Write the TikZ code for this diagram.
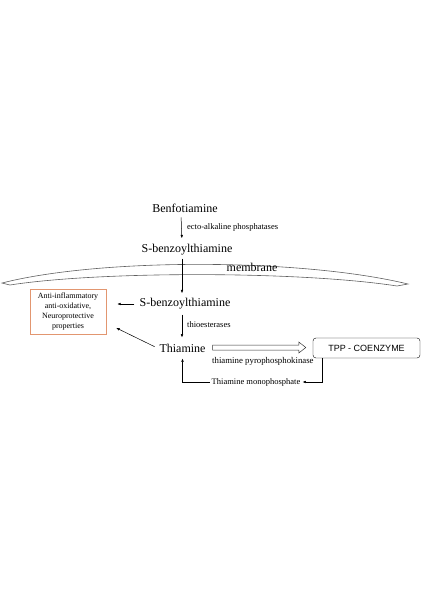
\documentclass[tikz,border=0pt]{standalone}
\usepackage{fontspec}
\setmainfont{Liberation Serif}
\setsansfont{Liberation Sans}
\usepackage{xcolor}
\usetikzlibrary{arrows.meta,positioning,calc}

\definecolor{boxorange}{RGB}{226,150,112}

\begin{document}
\begin{tikzpicture}[
    x=1pt, y=-1pt,
    composto/.style={inner sep=2pt, font=\fontsize{12}{14}\selectfont},
    enzima/.style={inner sep=2pt, anchor=west, font=\fontsize{8.5}{10}\selectfont},
    efeito/.style={draw=boxorange, align=center, minimum width=76pt,
        minimum height=45pt, inner sep=1pt, font=\fontsize{8}{10}\selectfont},
    coenzima/.style={draw, rounded corners=3pt, minimum width=107pt,
        minimum height=20pt, font=\sffamily\fontsize{9}{11}\selectfont},
    fluxo/.style={-{Latex[length=3.5pt,width=2.6pt]}, line width=0.5pt},
    membrana/.style={draw=gray!75!black, line width=0.6pt, fill=white},
    oco/.style={draw=black!80, line width=0.5pt, fill=white}
]
    \useasboundingbox (0,0) rectangle (424,600);

    \draw[membrana] (2,283) .. controls (100,258) and (300,258) .. (408,284)
        -- (397,286) .. controls (300,271) and (100,271) .. (10,285) -- cycle;
    \node[composto] (membrane) at (252,267.5) {membrane};

    \node[composto] (benfo) at (185,208) {Benfotiamine};
    \node[composto] (sbz1) at (187,250) {S-benzoylthiamine};
    \node[composto] (sbz2) at (185,304) {S-benzoylthiamine};
    \node[composto] (thia) at (182.5,348) {Thiamine};
    \node[efeito] (props) at (68,311.5) {Anti-inflammatory\\anti-oxidative,\\Neuroprotective\\properties};
    \node[coenzima] (tpp) at (366.5,348) {TPP - COENZYME};
    \node[enzima, anchor=center] (tmp) at (256,382) {Thiamine monophosphate};

    \node[enzima] (ecto) at (185,227) {ecto-alkaline phosphatases};
    \node[enzima] (thioest) at (185,325) {thioesterases};
    \node[enzima, font=\fontsize{8.8}{10}\selectfont] (kinase) at (210,361) {thiamine pyrophosphokinase};

    \draw[fluxo, shorten <=3pt, shorten >=4pt] ([xshift=-4pt]benfo.south) -- ([xshift=-5pt]sbz1.north);
    \draw[fluxo, shorten <=1pt, shorten >=3pt] ([xshift=-5pt]sbz1.south) -- ([xshift=-3pt]sbz2.north);
    \draw[fluxo, shorten <=3pt, shorten >=4pt] ([xshift=-3pt]sbz2.south) -- ([xshift=-0.5pt]thia.north);
    \draw[fluxo, shorten <=3pt, shorten >=11pt] (sbz2.west) -- (props.east |- sbz2.west);
    \draw[fluxo, shorten <=3pt, shorten >=11pt] (thia.west) -- ([yshift=-11.5pt]props.east);
    \draw[oco] ([xshift=5pt,yshift=3pt]thia.east) -- ([xshift=-14pt,yshift=3pt]tpp.west)
        -- ([xshift=-14pt,yshift=6pt]tpp.west) -- ([xshift=-7pt,yshift=0.5pt]tpp.west)
        -- ([xshift=-14pt,yshift=-5pt]tpp.west) -- ([xshift=-14pt,yshift=-2pt]tpp.west)
        -- ([xshift=5pt,yshift=-2pt]thia.east) -- cycle;
    \draw[fluxo] ([xshift=-44.5pt]tpp.south) |- (tmp.east);
    \draw[fluxo, shorten >=4pt] (tmp.west) -| (thia.south);
\end{tikzpicture}
\end{document}
